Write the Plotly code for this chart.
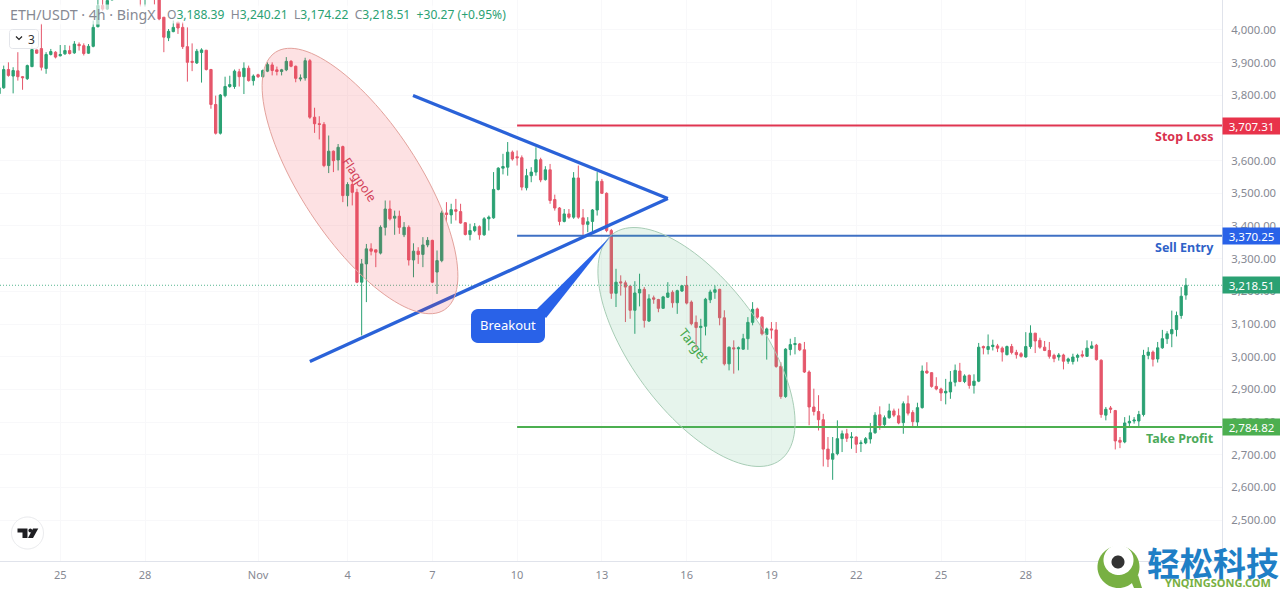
import numpy as np
import plotly.graph_objects as go

# ---------- candle data ----------
opens = [
3805,3823,3879,3859,3875,3857,3851,3888,3939,3943,
3882,3925,3932,3921,3927,3937,3930,3956,3952,3929,
3950,4010,4075,4064,4092,4120,4135,4125,4150,4160,
4140,4110,4125,4118,4105,4039,3976,3995,4024,4008,
3949,3904,3899,3931,3938,3879,3772,3684,3799,3827,
3827,3872,3857,3883,3845,3863,3857,3874,3893,3878,
3873,3878,3904,3889,3850,3853,3906,3733,3713,3711,
3585,3629,3602,3643,3493,3527,3503,3228,3284,3330,
3327,3317,3396,3452,3424,3430,3373,3396,3296,3323,
3313,3342,3356,3259,3294,3440,3434,3450,3444,3410,
3374,3386,3398,3373,3422,3425,3512,3577,3580,3626,
3612,3609,3517,3554,3565,3603,3542,3572,3481,3455,
3414,3437,3427,3547,3425,3405,3414,3449,3537,3500,
3386,3194,3229,3226,3216,3142,3195,3206,3109,3180,
3175,3148,3182,3197,3165,3201,3218,3167,3105,3089,
3093,3174,3197,3206,3119,2978,3027,3024,3023,3055,
3105,3146,3121,3068,3085,3082,2970,2878,3022,3037,
3039,3021,2953,2846,2832,2807,2717,2686,2703,2749,
2764,2752,2754,2734,2736,2748,2767,2822,2792,2813,
2834,2819,2798,2856,2829,2800,2844,2956,2951,2909,
2901,2889,2892,2922,2956,2924,2943,2912,2925,3031,
3022,3031,3033,3026,3006,3031,3013,3009,2999,3031,
3072,3050,3029,3019,3004,2999,3005,2986,2985,2998,
3006,3001,3026,3035,2989,2821,2843,2835,2744,2739,
2797,2803,2803,2823,3004,3014,2993,3027,3055,3070,
3083,3126,3188.39]
closes = [
3823,3879,3861,3876,3857,3854,3891,3940,3929,3886,
3925,3934,3917,3925,3937,3928,3957,3952,3928,3950,
4008,4075,4064,4090,4120,4135,4125,4150,4160,4140,
4110,4125,4118,4105,4034,3978,3996,4008,4006,3949,
3901,3901,3935,3939,3879,3772,3684,3801,3827,3833,
3874,3857,3883,3845,3859,3857,3876,3894,3876,3873,
3878,3904,3889,3852,3853,3906,3733,3713,3711,3585,
3629,3600,3641,3493,3527,3503,3228,3284,3330,3323,
3320,3396,3452,3422,3430,3396,3396,3296,3323,3313,
3342,3356,3228,3294,3440,3435,3450,3445,3409,3374,
3386,3398,3373,3422,3427,3512,3577,3582,3626,3605,
3609,3519,3554,3565,3603,3541,3572,3478,3455,3414,
3437,3427,3547,3427,3405,3413,3449,3537,3500,3386,
3194,3228,3226,3213,3142,3195,3206,3111,3177,3176,
3148,3183,3195,3165,3202,3217,3164,3101,3089,3093,
3176,3198,3205,3119,2978,3029,3024,3027,3055,3105,
3145,3121,3070,3085,3082,2970,2878,3023,3037,3040,
3021,2953,2846,2832,2807,2717,2686,2703,2749,2764,
2750,2754,2732,2736,2749,2767,2821,2790,2813,2834,
2821,2797,2856,2827,2801,2844,2956,2950,2909,2901,
2889,2894,2922,2958,2924,2941,2912,2925,3029,3027,
3031,3035,3026,3014,3031,3013,3006,3001,3031,3072,
3048,3029,3019,3001,2994,3005,2986,2993,2999,3004,
3002,3026,3033,2991,2823,2839,2839,2742,2738,2797,
2802,2806,2823,3004,3014,2992,3027,3055,3070,3083,
3126,3185,3218.51]
highs = [
3830,3891,3901,3886,3932,3859,3894,3957,3940,4019,
3932,3942,3935,3954,3954,3952,3966,3962,3959,3957,
4029,4095,4095,4115,4135,4150,4150,4165,4175,4170,
4150,4135,4135,4130,4115,4040,4003,4029,4024,4024,
4008,3959,3942,3944,3939,3881,3799,3804,3857,3860,
3879,3881,3901,3891,3864,3866,3879,3901,3901,3888,
3881,3917,3908,3891,3864,3915,3911,3762,3736,3718,
3677,3631,3651,3646,3534,3544,3514,3299,3345,3347,
3327,3402,3478,3478,3447,3447,3412,3402,3347,3335,
3366,3366,3358,3325,3447,3473,3468,3483,3468,3412,
3407,3409,3402,3427,3432,3565,3580,3621,3657,3631,
3631,3616,3575,3580,3641,3609,3583,3590,3496,3458,
3452,3452,3565,3585,3452,3427,3452,3565,3544,3503,
3391,3269,3249,3233,3218,3231,3254,3213,3191,3187,
3177,3186,3228,3203,3205,3218,3247,3172,3126,3116,
3180,3205,3218,3208,3142,3031,3050,3031,3070,3121,
3167,3150,3123,3089,3106,3106,2983,3026,3055,3060,
3042,3045,2958,2902,2882,2825,2754,2754,2805,2774,
2779,2769,2756,2744,2754,2797,2830,2848,2820,2856,
2841,2841,2863,2881,2836,2859,2973,2983,2953,2937,
2905,2932,2956,2976,2981,2946,2945,2946,3042,3034,
3068,3052,3039,3031,3034,3039,3021,3014,3075,3096,
3072,3058,3048,3045,3009,3011,3009,2997,3009,3009,
3019,3050,3047,3039,2992,2846,2849,2837,2754,2815,
2820,2815,2834,3021,3029,3019,3045,3082,3078,3141,
3138,3213,3240.21]
lows = [
3799,3820,3857,3806,3845,3817,3847,3886,3927,3876,
3866,3922,3913,3919,3924,3925,3927,3937,3922,3927,
3947,4008,4059,4061,4091,4112,4115,4118,4140,4130,
4072,4072,4100,4078,4030,3932,3966,3993,3988,3942,
3842,3874,3896,3839,3876,3759,3680,3680,3794,3823,
3820,3827,3804,3842,3830,3853,3853,3871,3861,3861,
3861,3874,3886,3840,3843,3845,3728,3685,3665,3580,
3562,3565,3570,3473,3460,3463,3225,3065,3167,3310,
3274,3313,3371,3417,3373,3376,3366,3279,3243,3284,
3274,3335,3225,3192,3289,3412,3407,3417,3407,3371,
3356,3381,3358,3370,3386,3422,3509,3558,3554,3600,
3585,3509,3509,3534,3554,3534,3539,3468,3447,3402,
3411,3422,3422,3422,3371,3381,3381,3432,3498,3381,
3177,3152,3187,3106,3116,3070,3154,3089,3106,3162,
3136,3147,3180,3150,3131,3198,3160,3096,3024,3014,
3065,3164,3177,3096,2973,2958,2948,2958,3021,3021,
3096,3116,3065,2991,3055,2966,2871,2874,3004,3007,
3017,2950,2790,2820,2774,2664,2662,2623,2698,2708,
2739,2718,2705,2708,2732,2734,2764,2776,2787,2810,
2815,2793,2764,2820,2785,2785,2841,2948,2905,2897,
2864,2854,2871,2909,2922,2919,2902,2887,2922,3007,
3007,3019,3014,2985,3004,3007,2994,2997,2997,3024,
3011,3024,3017,2994,2983,2988,2961,2978,2976,2985,
2997,2999,3024,2988,2813,2805,2827,2716,2720,2735,
2784,2795,2784,2817,2992,2970,2982,3024,3039,3029,
3062,3116,3174.22]
candle_index = list(range(len(opens)))

x_tick_index = [13, 31, 55, 74, 92, 110, 128, 146, 164, 182, 200, 218]
x_tick_labels = ["25", "28", "Nov", "4", "7", "10", "13", "16", "19", "22", "25", "28"]
y_ticks = list(range(2500, 4001, 100))

# trading levels
stop_loss = 3707.31
sell_entry = 3370.25
take_profit = 2784.82
last_price = 3218.51
level_start = 110
x_range = [0.212, 259.66]
y_range = [2374.5, 4091.8]

# triangle drawn over the chart: index, price
upper_line_x = [87.9, 142.0]
upper_line_y = [3799.5, 3484.0]
lower_line_x = [66.0, 142.0]
lower_line_y = [2985.0, 3484.0]

UP = "#2aa173"
DOWN = "#e5576b"
GREY = "#868993"
FONT = "Noto Sans"
W, H, PW, PH = 1280, 590, 1222, 561


def px(x, y):
    return x / PW, 1 - y / PH


def poly(points, close=True):
    out = []
    for k, (a, b) in enumerate(points):
        u, v = px(a, b)
        out.append(("M" if k == 0 else "L") + f"{u:.5f},{v:.5f}")
    return " ".join(out) + (" Z" if close else "")


def ellipse(cx, cy, a, b, deg):
    t = np.linspace(0, 2 * np.pi, 121)[:-1]
    th = np.radians(deg)
    xs = cx + a * np.cos(t) * np.cos(th) - b * np.sin(t) * np.sin(th)
    ys = cy + a * np.cos(t) * np.sin(th) + b * np.sin(t) * np.cos(th)
    return poly(list(zip(xs, ys)))


def rounded(x0, y0, x1, y1, r):
    pts = []
    for cx, cy, s in [(x0 + r, y0 + r, 180), (x1 - r, y0 + r, 270), (x1 - r, y1 - r, 0), (x0 + r, y1 - r, 90)]:
        for d in np.linspace(s, s + 90, 7):
            pts.append((cx + r * np.cos(np.radians(d)), cy + r * np.sin(np.radians(d))))
    return poly(pts)


def paper_shape(path, fill, line=None, width=1):
    return dict(type="path", xref="paper", yref="paper", path=path, fillcolor=fill,
                line=dict(color=line or "rgba(0,0,0,0)", width=width if line else 0), layer="above")


fig = go.Figure()
fig.add_trace(go.Candlestick(
    x=candle_index, open=opens, high=highs, low=lows, close=closes,
    increasing=dict(line=dict(color=UP, width=1), fillcolor=UP),
    decreasing=dict(line=dict(color=DOWN, width=1), fillcolor=DOWN),
    whiskerwidth=0, hoverinfo="skip", showlegend=False))


def level(y, color, start=level_start, dash=None, width=2):
    fig.add_trace(go.Scatter(x=[start, x_range[1]], y=[y, y], mode="lines", showlegend=False,
                             hoverinfo="skip", line=dict(color=color, width=width, dash=dash)))


level(last_price, "rgba(42,161,115,0.8)", start=x_range[0], dash="1px,2px", width=1)
level(stop_loss, "#df3550")
level(sell_entry, "#3f70c4")
level(take_profit, "#4caf50")
for xs, ys in [(upper_line_x, upper_line_y), (lower_line_x, lower_line_y)]:
    fig.add_trace(go.Scatter(x=xs, y=ys, mode="lines", showlegend=False, hoverinfo="skip",
                             line=dict(color="#2a62d8", width=3.3)))

shapes = [
    paper_shape(ellipse(360, 181, 154, 59, 56.7), "rgba(242,54,69,0.15)", "#e3a29c"),
    paper_shape(ellipse(696.5, 347, 140.7, 64.8, 53.5), "rgba(76,175,120,0.14)", "#a8cdb6"),
    # Breakout callout
    paper_shape(poly([(537, 309), (546, 318), (611, 236)]), "#2962e8"),
    paper_shape(rounded(471, 309, 545, 343, 7), "#2962e8"),
    # "3" button
    paper_shape(rounded(9.5, 29.5, 38.5, 48.5, 3), "rgba(255,255,255,0.9)", "#e3e5ea"),
    dict(type="path", xref="paper", yref="paper", layer="above",
         path=poly([(16, 36.5), (19, 39.5), (22, 36.5)], close=False), line=dict(color="#222222", width=1.2)),
    # TradingView badge
    paper_shape(ellipse(27.5, 533, 16, 16, 0), "#ffffff", "#e8e9ec"),
    paper_shape(poly([(17.5, 528.5), (27.5, 528.5), (27.5, 538), (22.5, 538), (22.5, 532.5), (17.5, 532.5)]), "#1e1e22"),
    paper_shape(ellipse(30.3, 530.5, 1.9, 1.9, 0), "#1e1e22"),
    paper_shape(poly([(33, 528.5), (38.3, 528.5), (33, 538), (28, 538)]), "#1e1e22"),
    # watermark eye
    paper_shape(ellipse(1118.5, 567, 21, 21, 0), "#78b043"),
    paper_shape(poly([(1131, 581), (1138, 575), (1142, 588), (1134, 588)]), "#78b043"),
    paper_shape(ellipse(1118.5, 560, 15, 15, 0), "#ffffff"),
    paper_shape(ellipse(1118, 562, 6.5, 6.5, 0), "#333333"),
]


def note(x, y, text, size=13, color=GREY, anchor="center", angle=0, bg=None, family=FONT, **kw):
    u, v = px(x, y)
    return dict(xref="paper", yref="paper", x=u, y=v, text=text, showarrow=False, xanchor=anchor, yanchor="middle",
                textangle=angle, bgcolor=bg, borderpad=0, font=dict(family=family, size=size, color=color), **kw)


def tag(price, text, color):
    return dict(xref="paper", yref="y", x=1.0, y=price, text=text, showarrow=False, xanchor="left", yanchor="middle",
                width=57, height=16, align="center", bgcolor=color, borderpad=0,
                font=dict(family=FONT, size=11.5, color="#ffffff"))


green = lambda s: f'<span style="color:{UP}">{s}</span>'
values_text = ("O" + green("3,188.39") + "  H" + green("3,240.21") + "  L" + green("3,174.22")
               + "  C" + green("3,218.51") + "  " + green("+30.27 (+0.95%)"))

annotations = [
    note(9, 14.5, "ETH/USDT · 4h · BingX", size=14.2, anchor="left", bg="rgba(255,255,255,0.65)"),
    note(166, 14.5, values_text, size=12.1, anchor="left", bg="rgba(255,255,255,0.65)"),
    note(31, 39, "3", size=12, color="#333333"),
    note(359, 180, "Flagpole", size=12.5, color="#d23f58", angle=56),
    note(694, 345, "Target", size=13, color="#43a74b", angle=52),
    note(507.5, 325, "Breakout", size=13, color="#ffffff"),
    note(1215, 137, "<b>Stop Loss</b>", size=12.5, color="#d9324e", anchor="right"),
    note(1215, 247, "<b>Sell Entry</b>", size=12.5, color="#2f62c8", anchor="right"),
    note(1215, 438, "<b>Take Profit</b>", size=12.5, color="#4caa5a", anchor="right"),
    tag(stop_loss, "3,707.31", "#e8334b"),
    tag(sell_entry, "3,370.25", "#2962e8"),
    tag(last_price, "3,218.51", UP),
    tag(take_profit, "2,784.82", "#4caf50"),
    note(1213, 561.5, "<b>轻松科技</b>", size=33, color="#1f7fc6", family="Noto Sans CJK SC"),
    note(1217.5, 582.5, "<b>YNQINGSONG.COM</b>", size=11, color="#78b043"),
]

fig.update_layout(
    width=W, height=H, autosize=False, margin=dict(l=0, r=W - PW, t=0, b=H - PH, pad=0),
    paper_bgcolor="#ffffff", plot_bgcolor="#ffffff", showlegend=False, hovermode=False, dragmode=False,
    font=dict(family=FONT, size=11, color=GREY), shapes=shapes, annotations=annotations,
    xaxis=dict(range=x_range, rangeslider=dict(visible=False), tickmode="array", tickvals=x_tick_index,
               ticktext=x_tick_labels, showgrid=True, gridcolor="#f8f8fa", gridwidth=1, zeroline=False,
               showline=True, linecolor="#e0e3eb", linewidth=1, ticks="outside", ticklen=4,
               tickcolor="rgba(0,0,0,0)", tickfont=dict(size=11, color=GREY, family=FONT)),
    yaxis=dict(range=y_range, side="right", tickmode="array", tickvals=y_ticks, tickformat=",.2f",
               showgrid=True, gridcolor="#f8f8fa", gridwidth=1, zeroline=False, showline=True,
               linecolor="#e0e3eb", linewidth=1, ticks="outside", ticklen=6, tickcolor="rgba(0,0,0,0)",
               tickfont=dict(size=11.3, color=GREY, family=FONT)),
)

fig.write_html("out.html", config={"displayModeBar": False},
               post_script="document.body.style.margin='0';document.documentElement.style.overflow='hidden';")
